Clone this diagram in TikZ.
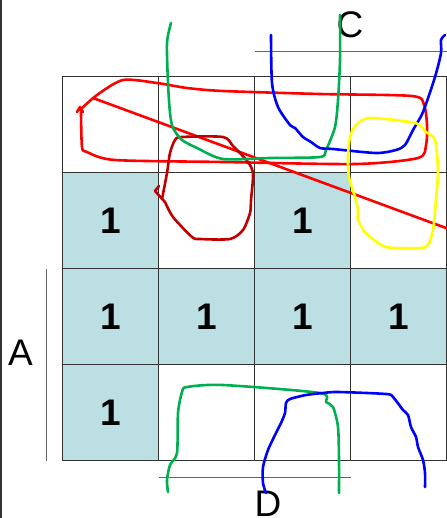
\documentclass[tikz,border=0pt]{standalone}
\usepackage{fontspec}
\setmainfont{Liberation Sans}
\usepackage{xcolor}
\usetikzlibrary{positioning}

\definecolor{kmap}{HTML}{BBDFE2}
\definecolor{penred}{HTML}{FF0000}
\definecolor{pendark}{HTML}{C00000}
\definecolor{pengreen}{HTML}{00B050}
\definecolor{penblue}{HTML}{0000FF}
\definecolor{penyellow}{HTML}{FFFF00}

\begin{document}
\begin{tikzpicture}[
  x=1pt, y=-1pt,
  node distance=0pt,
  cell/.style={draw=black!80, line width=1.1pt, minimum size=96pt, inner sep=0pt, outer sep=0pt, font=\fontsize{37}{37}\selectfont\bfseries},
  one/.style={cell, fill=kmap},
  lbl/.style={font=\fontsize{37}{37}\selectfont, inner sep=0pt},
  bar/.style={draw=black!60, line width=1pt},
  pen/.style={line width=2.6pt, line cap=round, line join=round},
]
\useasboundingbox (0,0) rectangle (446,518);
\draw[line width=1.5pt, black!80] (1,0) -- (1,518);
% K-map cells
\node[cell] (a1) at (110.5,124.5) {};
\node[cell, right=of a1] (a2) {};
\node[cell, right=of a2] (a3) {};
\node[cell, right=of a3] (a4) {};
\node[one, below=of a1] (b1) {1};
\node[cell, right=of b1] (b2) {};
\node[one, right=of b2] (b3) {1};
\node[cell, right=of b3] (b4) {};
\node[one, below=of b1] (c1) {1};
\node[one, right=of c1] (c2) {1};
\node[one, right=of c2] (c3) {1};
\node[one, right=of c3] (c4) {1};
\node[one, below=of c1] (d1) {1};
\node[cell, right=of d1] (d2) {};
\node[cell, right=of d2] (d3) {};
\node[cell, right=of d3] (d4) {};
% variable bars and labels
\draw[bar] ([xshift=-16pt]c1.north west) -- ([xshift=-16pt]d1.south west);
\draw[bar] ([yshift=24.5pt]a3.north west) -- ([yshift=24.5pt]a4.north east);
\draw[bar] ([yshift=-16.5pt]d2.south west) -- ([yshift=-16.5pt]d3.south east);
\node[lbl] (labA) at (20.5,352.5) {A};
\node[lbl] (labC) at (350,25) {C};
\node[lbl] (labD) at (268,504) {D};
% hand-drawn loops
\draw[pen, penred] plot[smooth, tension=0.45] coordinates {(80,110) (97,95) (123,80) (157,83) (187,88) (223,91) (320,94) (412,96) (424,105) (427,125) (426,145) (418,158) (356,164) (223,162) (115,160) (87,152) (82,147) (81,112)};
\draw[pen, penred] (77,112) -- (80,107) -- (83,112);
\draw[pen, penred] (93,98) -- (446,228);
\draw[pen, pendark] plot[smooth, tension=0.45] coordinates {(162,199) (167,173) (170,153) (175,140) (182,137) (223,137) (233,146) (248,162) (253,174) (251,200) (250,213) (243,230) (230,239) (200,239) (192,237) (173,217) (165,202)};
\draw[pen, pendark] (165,202) -- (155,191) -- (159,186);
\draw[pen, pengreen] plot[smooth, tension=0.45] coordinates {(171,23) (167,43) (168,83) (170,113) (173,128) (182,140) (197,148) (223,159) (270,158) (320,157) (326,150) (335,127) (338,100) (340,60) (340,15)};
\draw[pen, penblue] plot[smooth, tension=0.45] coordinates {(271,35) (272,83) (278,107) (290,125) (295,128) (303,137) (311,142) (320,148) (333,149) (376,153) (396,150) (405,145) (413,130) (423,112) (435,77) (441,53) (441,40) (445,35)};
\draw[pen, penyellow] plot[smooth cycle, tension=0.45] coordinates {(355,197) (349,177) (348,157) (350,137) (356,125) (370,118) (415,123) (426,132) (435,140) (438,170) (436,200) (433,230) (428,245) (420,248) (386,247) (366,233) (358,220) (358,210)};
\draw[pen, pengreen] plot[smooth, tension=0.45] coordinates {(168,492) (167,480) (170,465) (177,453) (178,413) (182,392) (187,387) (223,385) (320,393) (326,402) (333,407) (338,427) (339,460) (339,493)};
\draw[pen, penblue] plot[smooth, tension=0.45] coordinates {(266,493) (263,483) (263,467) (268,450) (276,433) (281,423) (285,413) (286,403) (290,399) (306,395) (323,393) (338,392) (386,394) (393,397) (403,410) (408,415) (411,427) (416,437) (418,447) (423,460) (425,473) (425,487)};
\end{tikzpicture}
\end{document}
